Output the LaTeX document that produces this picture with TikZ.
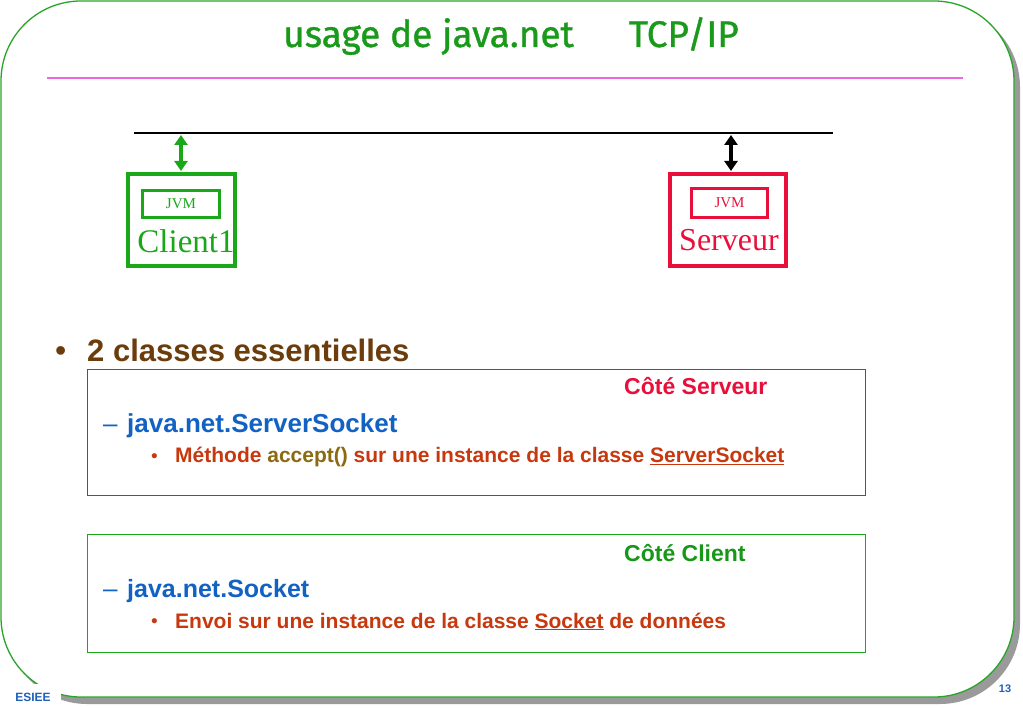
\documentclass[tikz,border=0pt]{standalone}
\usepackage{fontspec}
\setmainfont{Liberation Sans}
\newfontfamily\timesf{Liberation Serif}
\newfontfamily\titlef[FakeBold=1]{Fira Sans}
\usetikzlibrary{arrows.meta}
\definecolor{titlegreen}{HTML}{1A9A1A}
\definecolor{framegreen}{HTML}{2AA52A}
\definecolor{shadowgray}{HTML}{9A9A9A}
\definecolor{pinkline}{HTML}{EE66DD}
\definecolor{cgreen}{HTML}{1AA81A}
\definecolor{sred}{HTML}{E8103A}
\definecolor{brownt}{HTML}{6B3C0C}
\definecolor{bluet}{HTML}{1262C4}
\definecolor{oranget}{HTML}{C8380E}
\definecolor{olivet}{HTML}{8C6A12}
\definecolor{esieeblue}{HTML}{2060B8}
\tikzset{
  outerbox/.style={draw=#1, line width=4pt, minimum width=107pt, minimum height=92pt, inner sep=0pt},
  jvmbox/.style={draw=#1, line width=3pt, text=#1, inner sep=0pt,
    font=\timesf\fontsize{15}{15}\selectfont},
  hostlabel/.style={text=#1, inner sep=0pt, font=\timesf\fontsize{33}{33}\selectfont},
  sidebox/.style={draw=#1, line width=1pt, inner sep=0pt},
  busarrow/.style={{Triangle[length=10pt,width=13pt]}-{Triangle[length=10pt,width=13pt]}, line width=3.5pt, draw=#1, shorten <=1pt, shorten >=1pt},
  txt/.style={anchor=base west, inner sep=0pt},
  subdot/.style={anchor=base west, inner sep=0pt, text=oranget, font=\fontsize{19}{19}\selectfont},
  dashmark/.style={anchor=base west, inner sep=0pt, text=bluet, font=\fontsize{26}{26}\selectfont},
}
\begin{document}
\begin{tikzpicture}[x=1pt,y=-1pt]
\useasboundingbox (0,0) rectangle (1023,708);
\fill[white] (0,0) rectangle (1023,708);
% frame
\fill[shadowgray, rounded corners=80pt] (7,7) rectangle (1020,704);
\draw[framegreen, fill=white, line width=1.3pt, rounded corners=80pt] (1,1) rectangle (1014,697);
% title
\node[anchor=base, font=\titlef\fontsize{37}{40}\selectfont, text=titlegreen, inner sep=0pt] (title) at (511,47) {usage de java.net\hspace{55pt}TCP/IP};
\coordinate (pl) at (47,78);
\coordinate (pr) at (963,78);
\draw[pinkline, line width=2.5pt] (pl) -- (pr);
% bus
\coordinate (busL) at (134,133);
\coordinate (busR) at (833,133);
\draw[line width=1.2pt] (busL) -- (busR);
% client
\node[outerbox=cgreen] (client) at (181,220) {};
\node[jvmbox=cgreen, minimum width=77pt, minimum height=27pt] (cjvm) at (181,204) {JVM};
\node[hostlabel=cgreen] (clabel) at (186,241) {Client1};
\coordinate (ctop) at (181,134);
\draw[busarrow=cgreen] (ctop) -- (client.north);
% server
\node[outerbox=sred, minimum width=116pt] (server) at (728,220) {};
\node[jvmbox=sred, minimum width=76pt, minimum height=29pt] (sjvm) at (729.5,203) {JVM};
\node[hostlabel=sred, font=\timesf\fontsize{32}{32}\selectfont] (slabel) at (729,240) {Serveur};
\coordinate (stop) at (731,134);
\draw[busarrow=black] (stop) -- (server.north -| stop);
% bullet
\node[txt, text=brownt, font=\fontsize{32}{32}\selectfont] (b1) at (55,362) {•};
\node[txt, text=brownt, font=\bfseries\fontsize{31}{31}\selectfont] (classes) at (87,362) {2 classes essentielles};
% server side box
\node[sidebox=sred, minimum width=778pt, minimum height=125pt] (sbox) at (476,432.5) {};
\node[txt, text=sred, font=\bfseries\fontsize{23}{23}\selectfont] (ccs) at (624,395) {Côté Serveur};
\node[dashmark] (ssdash) at (103,432) {–};
\node[txt, text=bluet, font=\bfseries\fontsize{26}{26}\selectfont] (ss) at (127,432) {java.net.ServerSocket};
\node[subdot] (ssdot) at (151,462) {•};
\node[txt, text=oranget, font=\bfseries\fontsize{21}{21}\selectfont] (ssb) at (175,463) {Méthode \textcolor{olivet}{accept()} sur une instance de la classe \underline{ServerSocket}};
% client side box
\node[sidebox=cgreen, minimum width=778pt, minimum height=118pt] (cbox) at (476,593) {};
\node[txt, text=cgreen!90!black, font=\bfseries\fontsize{23}{23}\selectfont] (ccc) at (624,561) {Côté Client};
\node[dashmark] (csdash) at (103,597) {–};
\node[txt, text=bluet, font=\bfseries\fontsize{25}{25}\selectfont] (cs) at (127,597) {java.net.Socket};
\node[subdot] (csdot) at (151,627) {•};
\node[txt, text=oranget, font=\bfseries\fontsize{21}{21}\selectfont] (csb) at (175,628) {Envoi sur une instance de la classe \underline{Socket} de données};
% footer
\node[fill=white, text=esieeblue, font=\bfseries\fontsize{12}{12}\selectfont, inner xsep=10pt, inner ysep=9pt] (esiee) at (33,697) {ESIEE};
\node[text=esieeblue, font=\bfseries\fontsize{11}{11}\selectfont, inner sep=0pt] (pnum) at (1005,689) {13};
\end{tikzpicture}
\end{document}
